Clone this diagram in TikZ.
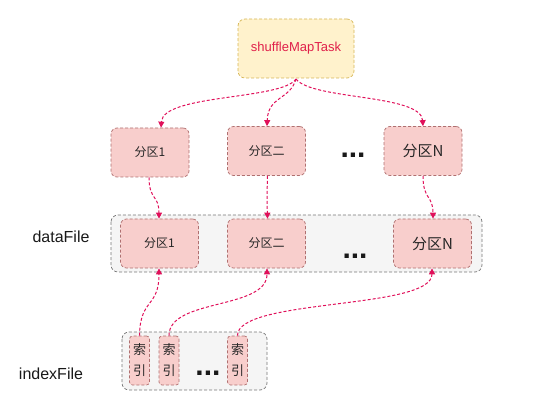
\documentclass[tikz,border=0pt]{standalone}
\usepackage{fontspec}
\setmainfont{Liberation Sans}
\newfontfamily\cjk{Noto Sans CJK SC}
\usetikzlibrary{arrows.meta}
\definecolor{pinkfill}{HTML}{F8CECC}
\definecolor{pinkline}{HTML}{B07070}
\definecolor{yelfill}{HTML}{FFF2CC}
\definecolor{yelline}{HTML}{D6B656}
\definecolor{grayfill}{HTML}{F5F5F5}
\definecolor{grayline}{HTML}{777777}
\definecolor{arr}{HTML}{E0105A}
\definecolor{txtred}{HTML}{E0204A}
\tikzset{
  part/.style={draw=pinkline, fill=pinkfill, dash pattern=on 3pt off 2pt, line width=0.7pt,
    rounded corners=6pt, inner sep=0pt, minimum width=78pt, minimum height=49pt, font=\cjk\fontsize{12}{14}\selectfont, text=black!85},
  partN/.style={part, font=\cjk\fontsize{15}{17}\selectfont},
  idx/.style={draw=pinkline, fill=pinkfill, dash pattern=on 3pt off 2pt, line width=0.7pt,
    rounded corners=3pt, inner sep=0pt, minimum width=20pt, minimum height=49pt, align=center,
    font=\cjk\fontsize{13}{21}\selectfont, text=black!85},
  cont/.style={draw=grayline, fill=grayfill, dash pattern=on 3pt off 2pt, line width=0.7pt, rounded corners=7pt},
  task/.style={draw=yelline, fill=yelfill, dash pattern=on 3pt off 2pt, line width=0.7pt,
    rounded corners=7pt, inner sep=0pt, minimum width=116pt, minimum height=59pt,
    font=\fontsize{13}{15}\selectfont, text=txtred},
  lbl/.style={font=\fontsize{16}{18}\selectfont, text=black!90},
  dots/.style={font=\bfseries\fontsize{30}{30}\selectfont, inner sep=0pt, text=black!90},
  conn/.style={draw=arr, line width=1pt, dash pattern=on 3pt off 2pt, -{Triangle[width=6pt,length=6pt]}},
}
\begin{document}
\begin{tikzpicture}[x=1pt,y=-1pt]
\useasboundingbox (0,0) rectangle (544,401);
% containers
\draw[cont] (111,215) rectangle (482,272);
\draw[cont] (122,332) rectangle (267,390);
% task
\node[task] (task) at (296,48.5) {shuffleMapTask};
% top row
\node[part] (t1) at (150,152.5) {分区1};
\node[part] (t2) at (266.5,151) {分区二};
\node[partN] (tN) at (423,151) {分区N};
\node[dots] (tdots) at (353,155) {...};
% data row
\node[part] (d1) at (159.5,243.5) {分区1};
\node[part] (d2) at (266.5,243.5) {分区二};
\node[partN] (dN) at (432.5,243.5) {分区N};
\node[dots] (ddots) at (355,256) {...};
% index row
\node[idx] (i1) at (139.5,360.5) {索\\引};
\node[idx] (i2) at (169,360.5) {索\\引};
\node[idx] (i3) at (237.5,360.5) {索\\引};
\node[dots] (idots) at (208,373) {...};
% labels
\node[lbl] (ldata) at (61,237) {dataFile};
\node[lbl] (lindex) at (51,374) {indexFile};
% connectors from task
\coordinate (ts) at (296,79);
\draw[conn] (ts) .. controls (282,100) and (163,94) .. (t1.north -| 161,0);
\draw[conn] (ts) .. controls (290,100) and (268,96) .. (t2.north -| 267,0);
\draw[conn] (ts) .. controls (312,100) and (421,94) .. (tN.north);
% top to data
\draw[conn] (t1.south -| 149,0) .. controls (149,200) and (159,195) .. (d1.north -| 159,0);
\draw[conn] (t2.south -| 267.5,0) .. controls (267,195) and (267,200) .. (d2.north -| 267.5,0);
\draw[conn] (tN.south) .. controls (423,200) and (433,195) .. (dN.north -| 433,0);
% index to data
\draw[conn] (i1.north) .. controls (140,298) and (159,308) .. (d1.south -| 159,0);
\draw[conn] (i2.north) .. controls (169,298) and (267,310) .. (d2.south -| 267,0);
\draw[conn] (i3.north) .. controls (237,298) and (432,310) .. (dN.south -| 432,0);
\end{tikzpicture}
\end{document}
